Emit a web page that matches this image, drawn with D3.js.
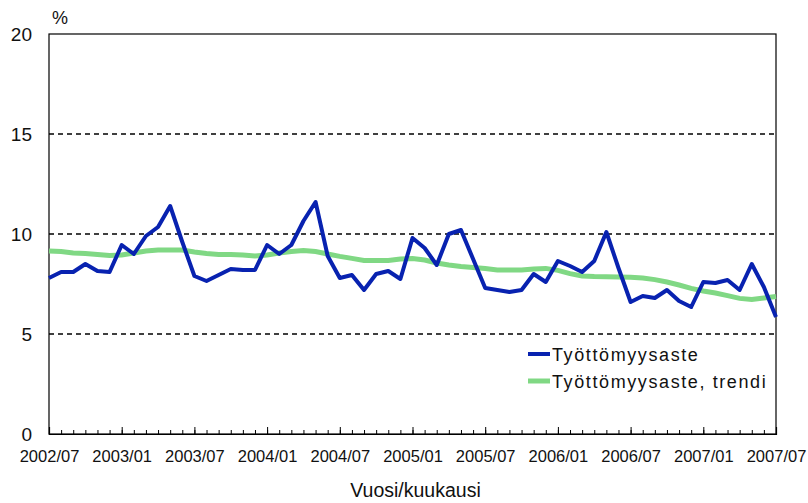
<!DOCTYPE html>
<html>
<head>
<meta charset="utf-8">
<script src="https://cdn.jsdelivr.net/npm/d3@7"></script>
<style>
  body { margin: 0; background: #fff; }
  svg { display: block; font-family: "Liberation Sans", Arial, sans-serif; }
</style>
</head>
<body>
<div id="chart"></div>
<script>
// Monthly data 2002/07 - 2007/07
const tickLabels = ["2002/07", "2003/01", "2003/07", "2004/01", "2004/07", "2005/01",
  "2005/07", "2006/01", "2006/07", "2007/01", "2007/07"];

const rate = [7.8, 8.1, 8.1, 8.5, 8.15, 8.1, 9.45, 9.0, 9.9, 10.35,
  11.4, 9.6, 7.9, 7.65, 7.95, 8.25, 8.2, 8.2, 9.45, 9.0,
  9.45, 10.65, 11.6, 8.9, 7.8, 7.95, 7.2, 8.0, 8.15, 7.75,
  9.8, 9.3, 8.45, 10.0, 10.2, 8.75, 7.3, 7.2, 7.1, 7.2,
  8.0, 7.6, 8.65, 8.4, 8.1, 8.65, 10.1, 8.3, 6.6, 6.9,
  6.8, 7.2, 6.65, 6.35, 7.6, 7.55, 7.7, 7.2, 8.5, 7.35,
  5.85];

const trend = [9.15, 9.12, 9.05, 9.02, 8.97, 8.93, 8.95, 9.05, 9.15, 9.2,
  9.2, 9.2, 9.1, 9.02, 8.98, 8.97, 8.95, 8.9, 8.95, 9.05,
  9.12, 9.17, 9.12, 9.0, 8.88, 8.78, 8.68, 8.67, 8.68, 8.75,
  8.77, 8.7, 8.55, 8.45, 8.38, 8.33, 8.27, 8.2, 8.2, 8.2,
  8.25, 8.28, 8.18, 8.02, 7.9, 7.87, 7.86, 7.85, 7.84, 7.8,
  7.72, 7.6, 7.45, 7.28, 7.15, 7.05, 6.92, 6.78, 6.72, 6.8,
  6.88];

const yTicks = [0, 5, 10, 15, 20];
const seriesNames = ["Työttömyysaste", "Työttömyysaste, trendi"];
const seriesColors = ["#0822b0", "#80d884"];

const width = 808, height = 503;
const margin = { top: 34, right: 32, bottom: 69, left: 49 };
const innerW = width - margin.left - margin.right;
const innerH = height - margin.top - margin.bottom;

const svg = d3.select("#chart").append("svg")
  .attr("width", width)
  .attr("height", height);

const g = svg.append("g").attr("transform", `translate(${margin.left},${margin.top})`);

const x = d3.scaleLinear().domain([0, rate.length - 1]).range([0, innerW]);
const y = d3.scaleLinear().domain([0, 20]).range([innerH, 0]);

// dashed grid lines
g.append("g")
  .selectAll("line")
  .data(yTicks.filter(d => d > 0 && d < 20))
  .enter().append("line")
  .attr("x1", 0).attr("x2", innerW)
  .attr("y1", d => y(d)).attr("y2", d => y(d))
  .attr("stroke", "#000")
  .attr("stroke-width", 1.3)
  .attr("stroke-dasharray", "5,4");

// frame
g.append("rect")
  .attr("x", 0).attr("y", 0)
  .attr("width", innerW).attr("height", innerH)
  .attr("fill", "none")
  .attr("stroke", "#000")
  .attr("stroke-width", 1.2);

// y axis labels
const yAxis = g.append("g")
  .call(d3.axisLeft(y).tickValues(yTicks).tickSize(0).tickPadding(17));
yAxis.select(".domain").remove();
yAxis.selectAll("text")
  .attr("font-size", 19)
  .attr("font-family", "Liberation Sans, Arial, sans-serif")
  .attr("fill", "#111");

// x axis: minor ticks every month
const xMinor = g.append("g")
  .attr("transform", `translate(0,${innerH})`)
  .call(d3.axisBottom(x).tickValues(d3.range(rate.length)).tickSize(-4).tickFormat(""));
xMinor.select(".domain").remove();

// x axis: major ticks every half year with labels
const xMajor = g.append("g")
  .attr("transform", `translate(0,${innerH})`)
  .call(d3.axisBottom(x)
    .tickValues(tickLabels.map((d, i) => i * 6))
    .tickSize(-7)
    .tickPadding(16)
    .tickFormat((d, i) => tickLabels[i]));
xMajor.select(".domain").attr("stroke-width", 1.2);
xMajor.selectAll("text")
  .attr("font-size", 16.5)
  .attr("font-family", "Liberation Sans, Arial, sans-serif")
  .attr("fill", "#111");

// lines
const line = d3.line()
  .x((d, i) => x(i))
  .y(d => y(d));

g.append("path")
  .datum(trend)
  .attr("fill", "none")
  .attr("stroke", seriesColors[1])
  .attr("stroke-width", 5)
  .attr("d", line);

g.append("path")
  .datum(rate)
  .attr("fill", "none")
  .attr("stroke", seriesColors[0])
  .attr("stroke-width", 4)
  .attr("stroke-linejoin", "round")
  .attr("d", line);

// legend
const legend = svg.append("g").attr("transform", "translate(528,354)");
seriesNames.forEach((name, i) => {
  const row = legend.append("g").attr("transform", `translate(0,${i * 27})`);
  row.append("line")
    .attr("x1", 0).attr("x2", 22)
    .attr("stroke", seriesColors[i])
    .attr("stroke-width", i === 0 ? 4 : 5);
  row.append("text")
    .attr("x", 24)
    .attr("y", 6.5)
    .attr("font-size", 18)
    .attr("letter-spacing", 1.6)
    .attr("fill", "#111")
    .text(name);
});

// unit label
svg.append("text")
  .attr("x", 52).attr("y", 24)
  .attr("font-size", 18)
  .attr("fill", "#111")
  .text("%");

// x axis title
svg.append("text")
  .attr("x", margin.left + innerW / 2 + 3)
  .attr("y", 497)
  .attr("text-anchor", "middle")
  .attr("font-size", 19.5)
  .attr("fill", "#111")
  .text("Vuosi/kuukausi");
</script>
</body>
</html>
